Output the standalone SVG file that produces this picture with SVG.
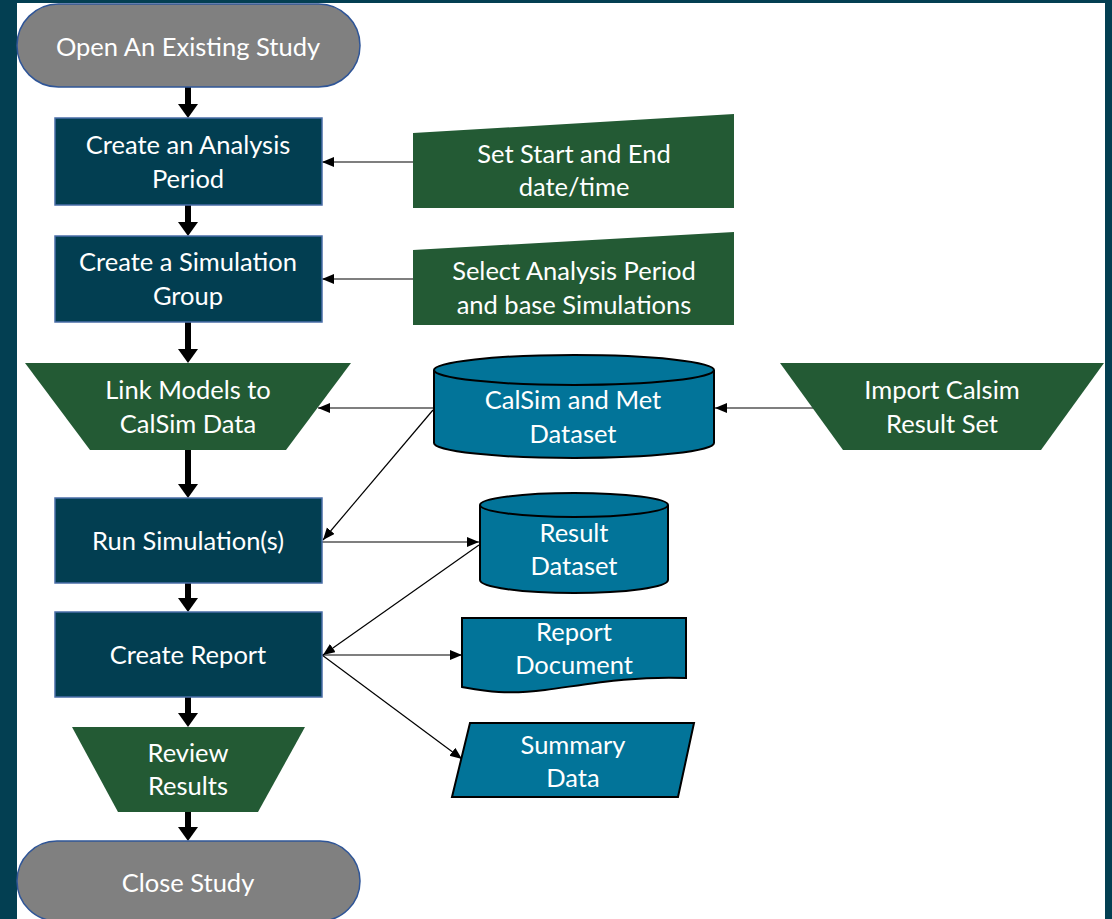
<svg xmlns="http://www.w3.org/2000/svg" width="1112" height="919" viewBox="0 0 1112 919">
<style>
.t{font-family:Lato,"Liberation Sans",sans-serif;font-size:25.5px;fill:#ffffff;text-anchor:middle}
.proc{fill:#023e51;stroke:#4a6ea8;stroke-width:1.5}
.term{fill:#808080;stroke:#2f5597;stroke-width:1.5}
.grn{fill:#235a34}
.blu{fill:#027499;stroke:#000;stroke-width:2}
.thick{stroke:#000;stroke-width:6;fill:none}
.thin{stroke:#000;stroke-width:1.2;fill:none}
</style>
<defs>
<marker id="big" markerUnits="userSpaceOnUse" markerWidth="16" markerHeight="22" refX="6" refY="10" orient="auto" viewBox="0 0 16 22">
<path d="M0,0 L14,10 L0,20 Z" fill="#000"/>
</marker>
<marker id="sm" markerUnits="userSpaceOnUse" markerWidth="14" markerHeight="12" refX="12" refY="5" orient="auto" viewBox="0 0 14 12">
<path d="M0,0 L12,5 L0,10 Z" fill="#000"/>
</marker>
</defs>
<rect x="0" y="0" width="1112" height="919" fill="#033f52"/>
<rect x="17" y="3" width="1088" height="916" fill="#ffffff"/>

<g id="connectors">
<line class="thick" x1="188" y1="87" x2="188" y2="110" marker-end="url(#big)"/>
<line class="thick" x1="188" y1="205" x2="188" y2="228" marker-end="url(#big)"/>
<line class="thick" x1="188" y1="322" x2="188" y2="355" marker-end="url(#big)"/>
<line class="thick" x1="188" y1="450" x2="188" y2="490" marker-end="url(#big)"/>
<line class="thick" x1="188" y1="583" x2="188" y2="604" marker-end="url(#big)"/>
<line class="thick" x1="188" y1="697" x2="188" y2="719" marker-end="url(#big)"/>
<line class="thick" x1="188" y1="812" x2="188" y2="833" marker-end="url(#big)"/>
<line class="thin" x1="413" y1="162" x2="322" y2="162" marker-end="url(#sm)"/>
<line class="thin" x1="413" y1="279" x2="322" y2="279" marker-end="url(#sm)"/>
<line class="thin" x1="433" y1="408" x2="318" y2="408" marker-end="url(#sm)"/>
<line class="thin" x1="433" y1="410" x2="323" y2="540" marker-end="url(#sm)"/>
<line class="thin" x1="816" y1="408" x2="715" y2="408" marker-end="url(#sm)"/>
<line class="thin" x1="322" y1="542" x2="479" y2="542" marker-end="url(#sm)"/>
<line class="thin" x1="479" y1="545" x2="323" y2="655" marker-end="url(#sm)"/>
<line class="thin" x1="322" y1="655" x2="462" y2="655" marker-end="url(#sm)"/>
<line class="thin" x1="322" y1="655" x2="462" y2="759" marker-end="url(#sm)"/>
</g>

<g id="open-study">
<rect class="term" x="17" y="4" width="343" height="83" rx="41.5"/>
<text class="t" x="188" y="56">Open An Existing Study</text>
</g>
<g id="create-analysis-period">
<rect class="proc" x="55" y="118" width="267" height="87"/>
<text class="t" x="188" y="154">Create an Analysis</text>
<text class="t" x="188" y="188">Period</text>
</g>
<g id="set-start-end">
<polygon class="grn" points="413,133 734,114 734,208 413,208"/>
<text class="t" x="574" y="163">Set Start and End</text>
<text class="t" x="574" y="196">date/time</text>
</g>
<g id="create-simulation-group">
<rect class="proc" x="55" y="236" width="267" height="86"/>
<text class="t" x="188" y="271">Create a Simulation</text>
<text class="t" x="188" y="305">Group</text>
</g>
<g id="select-analysis-period">
<polygon class="grn" points="413,250 734,232 734,325 413,325"/>
<text class="t" x="574" y="280">Select Analysis Period</text>
<text class="t" x="574" y="314">and base Simulations</text>
</g>
<g id="link-models">
<polygon class="grn" points="25,363 351,363 286,450 90,450"/>
<text class="t" x="188" y="399">Link Models to</text>
<text class="t" x="188" y="433">CalSim Data</text>
</g>
<g id="calsim-met-dataset">
<path class="blu" d="M434,370 A140,15 0 0 1 714,370 V443 A140,15 0 0 1 434,443 Z"/>
<path d="M434,370 A140,15 0 0 0 714,370" fill="none" stroke="#000" stroke-width="2"/>
<text class="t" x="573" y="409">CalSim and Met</text>
<text class="t" x="573" y="443">Dataset</text>
</g>
<g id="import-calsim">
<polygon class="grn" points="780,363 1104,363 1041,450 843,450"/>
<text class="t" x="942" y="399">Import Calsim</text>
<text class="t" x="942" y="433">Result Set</text>
</g>
<g id="run-simulations">
<rect class="proc" x="55" y="498" width="267" height="85"/>
<text class="t" x="188" y="550">Run Simulation(s)</text>
</g>
<g id="result-dataset">
<path class="blu" d="M480,505 A94,12 0 0 1 668,505 V580 A94,13 0 0 1 480,580 Z"/>
<path d="M480,505 A94,12 0 0 0 668,505" fill="none" stroke="#000" stroke-width="2"/>
<text class="t" x="574" y="542">Result</text>
<text class="t" x="574" y="575">Dataset</text>
</g>
<g id="create-report">
<rect class="proc" x="55" y="612" width="267" height="85"/>
<text class="t" x="188" y="664">Create Report</text>
</g>
<g id="report-document">
<path class="blu" d="M462,618 H686 V678 C630,676 590,684 545,690 C505,695 485,691 462,687 Z"/>
<text class="t" x="574" y="641">Report</text>
<text class="t" x="574" y="674">Document</text>
</g>
<g id="summary-data">
<polygon class="blu" points="470,723 694,723 678,797 452,797"/>
<text class="t" x="573" y="754">Summary</text>
<text class="t" x="573" y="787">Data</text>
</g>
<g id="review-results">
<polygon class="grn" points="72,727 305,727 258,812 118,812"/>
<text class="t" x="188" y="762">Review</text>
<text class="t" x="188" y="795">Results</text>
</g>
<g id="close-study">
<rect class="term" x="17" y="841" width="343" height="80" rx="40"/>
<text class="t" x="188" y="892">Close Study</text>
</g>
</svg>
